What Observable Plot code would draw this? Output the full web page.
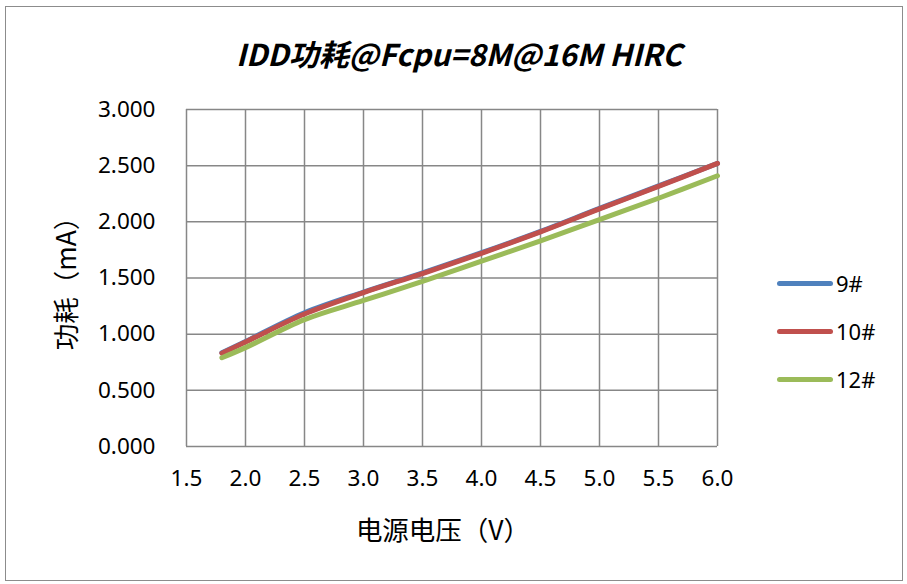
<!DOCTYPE html>
<html><head><meta charset="utf-8">
<script src="https://cdn.jsdelivr.net/npm/d3@7"></script>
<script src="https://cdn.jsdelivr.net/npm/@observablehq/plot@0.6"></script>
<style>
body{margin:0;background:#fff;}
#wrap{position:relative;width:907px;height:584px;overflow:hidden;font-family:"Noto Sans CJK SC","Noto Sans",sans-serif;color:#000;}
#border{position:absolute;left:5px;top:6px;width:898px;height:575px;border:1.5px solid #8c8c8c;box-sizing:border-box;}
#chart{position:absolute;left:0;top:0;}
.lab{position:absolute;transform:translate(-50%,-50%);white-space:nowrap;line-height:1;}
#title{left:459px;top:53px;font-size:30px;font-weight:bold;font-style:italic;}
#xlabel{left:443px;top:529px;font-size:26.5px;}
#ylabel{left:65px;top:277px;transform:translate(-50%,-50%) rotate(-90deg);font-size:26.5px;}
.leg{position:absolute;left:777px;height:24px;display:flex;align-items:center;font-size:22px;font-family:"Noto Sans","Noto Sans CJK SC",sans-serif;}
.leg span.sw{display:inline-block;width:56px;height:5px;border-radius:3px;margin-right:3px;}
</style></head>
<body>
<div id="wrap">
  <div id="border"></div>
  <div id="chart"></div>
  <div id="title" class="lab"></div>
  <div id="xlabel" class="lab"></div>
  <div id="ylabel" class="lab"></div>
</div>
<script>
const titleText = "IDD功耗@Fcpu=8M@16M HIRC";
const xLabel = "电源电压（V）";
const yLabel = "功耗（mA）";
const seriesNames = ["9#", "10#", "12#"];
const seriesColors = ["#4F81BD", "#C0504D", "#9BBB59"];
const volts = [1.8, 2.0, 2.5, 3.0, 3.5, 4.0, 4.5, 5.0, 5.5, 6.0];
const s9  = [0.835, 0.935, 1.19, 1.375, 1.545, 1.725, 1.915, 2.12, 2.32, 2.52];
const s10 = [0.83, 0.93, 1.18, 1.37, 1.54, 1.72, 1.91, 2.115, 2.315, 2.52];
const s12 = [0.79, 0.88, 1.13, 1.30, 1.47, 1.65, 1.83, 2.02, 2.21, 2.41];
const xTicks = [1.5, 2.0, 2.5, 3.0, 3.5, 4.0, 4.5, 5.0, 5.5, 6.0];
const yTicks = [0, 0.5, 1.0, 1.5, 2.0, 2.5, 3.0];

const seriesVals = [s9, s10, s12];
const data = [];
seriesNames.forEach((n, i) => volts.forEach((v, j) => data.push({series: n, v, i: seriesVals[i][j]})));

document.getElementById("title").textContent = titleText;
document.getElementById("xlabel").textContent = xLabel;
document.getElementById("ylabel").textContent = yLabel;

const gridStyle = {stroke: "#878787", strokeOpacity: 1, strokeWidth: 1.5};
const chart = Plot.plot({
  width: 907, height: 584,
  marginLeft: 186, marginRight: 190, marginTop: 109, marginBottom: 138,
  style: {fontFamily: "'Noto Sans', sans-serif", fontSize: "22.5px", color: "#000", background: "transparent"},
  x: {domain: [1.5, 6.0], ticks: xTicks, tickFormat: d3.format(".1f"), tickSize: 0, tickPadding: 24, label: null},
  y: {domain: [0, 3.0], ticks: yTicks, tickFormat: d3.format(".3f"), tickSize: 0, tickPadding: 31, label: null},
  color: {domain: seriesNames, range: seriesColors},
  marks: [
    Plot.gridX(xTicks, gridStyle),
    Plot.gridY(yTicks, gridStyle),
    Plot.line(data, {x: "v", y: "i", z: "series", stroke: "series", curve: "catmull-rom", strokeWidth: 5})
  ]
});
document.getElementById("chart").appendChild(chart);

const legY = [271, 319, 367];
const wrap = document.getElementById("wrap");
seriesNames.forEach((n, i) => {
  const d = document.createElement("div");
  d.className = "leg";
  d.style.top = legY[i] + "px";
  d.innerHTML = `<span class="sw" style="background:${seriesColors[i]}"></span><span>${n}</span>`;
  wrap.appendChild(d);
});
</script>
</body></html>
